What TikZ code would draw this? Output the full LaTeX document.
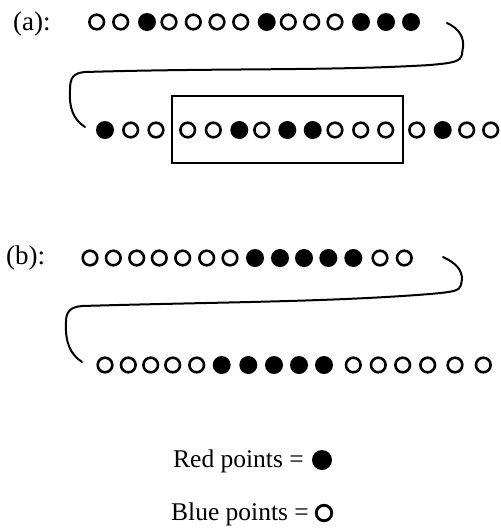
\documentclass[tikz,border=0pt]{standalone}
\usepackage{fontspec}
\setmainfont{Liberation Serif}
\begin{document}
\begin{tikzpicture}[x=1pt,y=-1pt,
  pto/.style={circle,draw,line width=2.6pt,minimum size=14.6pt,inner sep=0pt},
  ptf/.style={circle,fill,minimum size=18pt,inner sep=0pt},
  link/.style={line width=2pt,line cap=round},
  lbl/.style={font=\fontsize{25.5}{28}\selectfont,inner sep=0pt}]
\useasboundingbox (0,0) rectangle (501,528);
% (a)
\node[lbl,anchor=base west,font=\fontsize{27}{30}\selectfont] (la) at (13,30) {(a):};
\foreach \x/\t [count=\i] in {96.7/o,120.7/o,147/f,169/o,193.3/o,217/o,240.7/o,266.7/f,288.3/o,311.7/o,335/o,361/f,386/f,411/f}
  \node[pt\t] (a1-\i) at (\x,22) {};
\foreach \x/\t [count=\i] in {105/f,130.7/o,156/o,187.7/o,213.3/o,239.3/f,261.7/o,287.3/f,312.7/f,335/o,360.7/o,385.7/o,416.7/o,442.7/f,466.7/o,490.7/o}
  \node[pt\t] (a2-\i) at (\x,130) {};
\draw[line width=2pt] (172,96) rectangle (403,163);
\coordinate (as) at (447,23);
\coordinate (ae) at (85,127);
\draw[link] (as) .. controls (460,29) and (464,38) .. (463,47)
  -- (462,54) .. controls (461,62) and (452,63) .. (430,65)
  .. controls (330,71) and (220,68) .. (85,72)
  .. controls (73,73) and (70,78) .. (70,90)
  .. controls (69,108) and (73,119) .. (ae);
% (b)
\node[lbl,anchor=base west,font=\fontsize{27}{30}\selectfont] (lb) at (6,264) {(b):};
\foreach \x/\t [count=\i] in {90/o,113.3/o,136.7/o,159.3/o,182.7/o,206.7/o,230/o,255/f,280/f,304/f,328.3/f,353.3/f,380/o,404.3/o}
  \node[pt\t] (b1-\i) at (\x,258) {};
\foreach \x/\t [count=\i] in {105/o,128.3/o,150.7/o,172.7/o,196.7/o,221.7/f,248.3/f,274/f,299/f,324/f,353.3/o,378.3/o,402.7/o,427.7/o,455/o,483.3/o}
  \node[pt\t] (b2-\i) at (\x,365) {};
\coordinate (bs) at (443,257);
\coordinate (be) at (82,362);
\draw[link] (bs) .. controls (456,263) and (462,270) .. (462,279)
  -- (461,285) .. controls (460,291) and (452,292) .. (430,294)
  .. controls (330,302) and (220,302) .. (82,306)
  .. controls (70,307) and (66,312) .. (66,322)
  .. controls (65,342) and (70,354) .. (be);
% legend
\node[lbl,anchor=base west] (lr) at (173,467) {Red points =};
\node[ptf,minimum size=20pt] (kr) at (322,460) {};
\node[lbl,anchor=base west] (lbl2) at (171,520) {Blue points =};
\node[pto,minimum size=15.5pt,line width=2.8pt] (kb) at (324,513) {};
\end{tikzpicture}
\end{document}
